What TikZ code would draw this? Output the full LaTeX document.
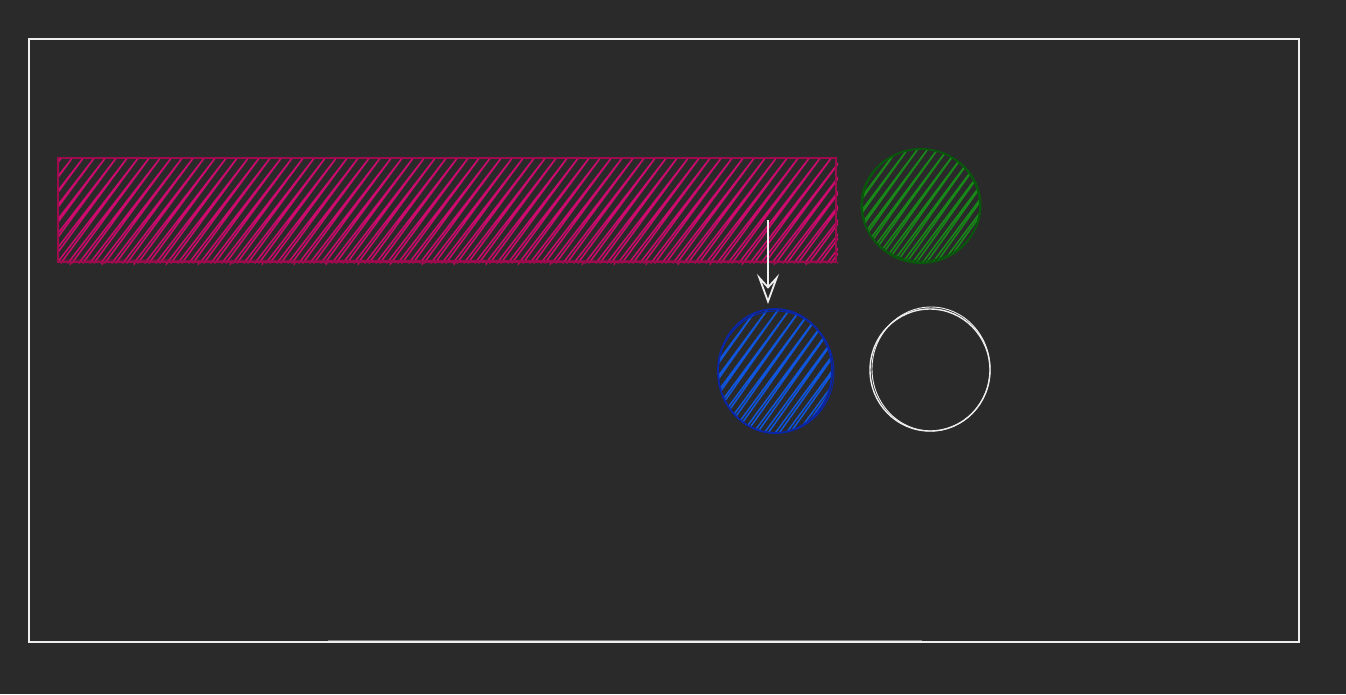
\documentclass[tikz,border=0pt]{standalone}
\usetikzlibrary{arrows.meta}
\definecolor{bg}{RGB}{42,42,42}
\definecolor{pinkS}{RGB}{158,10,78}
\definecolor{pinkH}{RGB}{205,10,110}
\definecolor{greenS}{RGB}{8,88,12}
\definecolor{greenH}{RGB}{24,136,24}
\definecolor{blueS}{RGB}{10,38,168}
\definecolor{blueH}{RGB}{16,86,220}
\definecolor{frameC}{RGB}{238,238,238}
\tikzset{
  hatch/.style={line width=1.5pt, line cap=round, line join=round},
  outline/.style={line width=1.8pt},
}
\begin{document}
\begin{tikzpicture}[x=1pt,y=-1pt]
\useasboundingbox (0,0) rectangle (1346,694);
\fill[bg] (0,0) rectangle (1346,694);
% frame
\draw[frameC, line width=1.5pt] (29,39) -- (1299,39) -- (1299,642) -- (29,642) -- cycle;
\draw[gray, line width=0.8pt] (328,640) -- (922,640);
% pink bar
\coordinate (barNW) at (58,158);
\coordinate (barSE) at (836,262);
\begin{scope}
  \clip (58,158) rectangle (838,264);
  \foreach \x in {-130,-119,...,900} {
    \draw[hatch, pinkH] (\x,263) -- ++(82,-106) -- ++(-78,106);
  }
\end{scope}
\foreach \x in {70,102,...,830} {
  \draw[pinkH, line width=1pt] (\x,265) -- ++(2,-4);
}
\draw[outline, pinkS] (barNW) rectangle (barSE);
\draw[pinkS, line width=0.8pt] (60,260) -- (834,261);
% green circle
\coordinate (gC) at (921,206);
\begin{scope}
  \clip (gC) ellipse [x radius=59pt, y radius=57pt];
  \foreach \x in {780,790,...,1000} {
    \draw[hatch, greenH] (\x,266) -- ++(90,-120) -- ++(-86,120);
  }
\end{scope}
\draw[outline, greenS] (gC) ellipse [x radius=59pt, y radius=57pt];
\draw[greenS, line width=1pt] (921,205) ellipse [x radius=60pt, y radius=56pt];
% blue circle
\coordinate (bC) at (775,371);
\begin{scope}
  \clip (bC) ellipse [x radius=57pt, y radius=62pt];
  \foreach \x in {630,641,...,850} {
    \draw[hatch, blueH] (\x,436) -- ++(96,-130) -- ++(-92,130);
  }
\end{scope}
\draw[outline, blueS] (bC) ellipse [x radius=57pt, y radius=62pt];
\draw[blueS, line width=1pt] (776,372) ellipse [x radius=58pt, y radius=61pt];
\coordinate (bTop) at (768,304);
% white circle
\coordinate (wC) at (930,370);
\draw[frameC, line width=1.4pt] (wC) ellipse [x radius=60pt, y radius=61pt];
\draw[frameC, line width=0.9pt] (931,369) ellipse [x radius=59pt, y radius=62pt];
% arrow
\coordinate (aStart) at (768,220);
\draw[frameC, line width=1.8pt, -{Stealth[open, length=30pt, width=22pt, inset=12pt]}] (aStart) -- (bTop);
\end{tikzpicture}
\end{document}
